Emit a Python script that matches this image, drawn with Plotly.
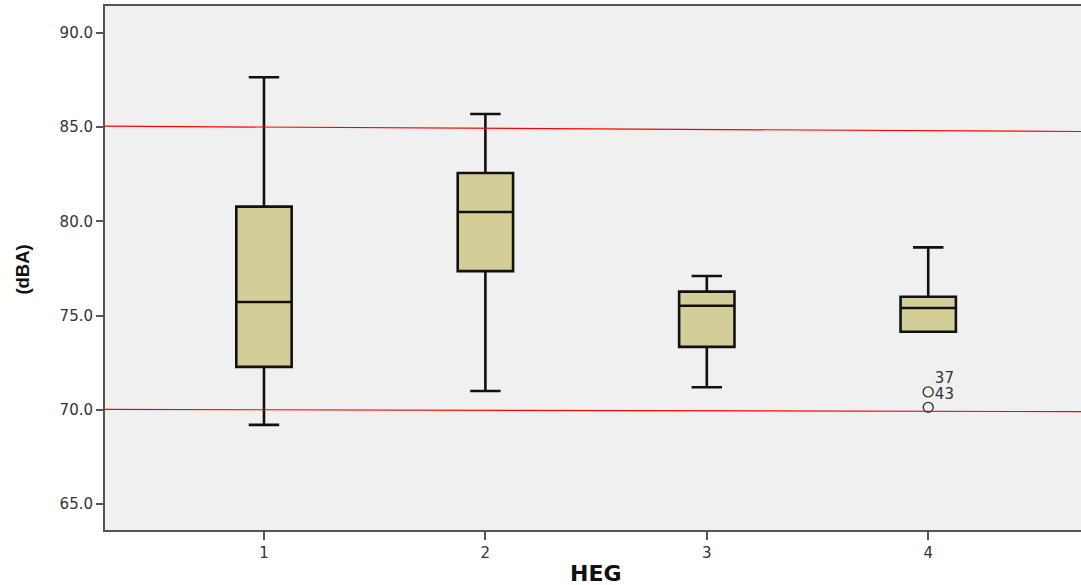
import plotly.graph_objects as go

groups = ["1", "2", "3", "4"]
upper_whisker = [87.65, 85.70, 77.10, 78.62]
q3 = [80.78, 82.57, 76.27, 76.00]
median = [75.72, 80.50, 75.52, 75.40]
q1 = [72.28, 77.36, 73.34, 74.14]
lower_whisker = [69.20, 71.00, 71.20, 74.14]

outlier_group = ["4", "4"]
outlier_values = [70.95, 70.13]
outlier_labels = ["37", "43"]
outlier_label_y = [71.6, 70.75]

ref_x = [0.28, 4.69]
ref_upper = [85.05, 84.77]
ref_lower = [70.02, 69.90]

y_ticks = [65, 70, 75, 80, 85, 90]

fig = go.Figure()

fig.add_trace(go.Scatter(x=ref_x, y=ref_upper, mode="lines",
                         line=dict(color="#FF0000", width=1.2),
                         hoverinfo="skip", showlegend=False))
fig.add_trace(go.Scatter(x=ref_x, y=ref_lower, mode="lines",
                         line=dict(color="#FF0000", width=1.2),
                         hoverinfo="skip", showlegend=False))

fig.add_trace(go.Box(
    x=[int(g) for g in groups],
    q1=q1, median=median, q3=q3,
    lowerfence=lower_whisker, upperfence=upper_whisker,
    fillcolor="#D3CE97",
    line=dict(color="#111111", width=2.6),
    width=0.25,
    whiskerwidth=0.55,
    boxpoints=False,
    showlegend=False,
))

fig.add_trace(go.Scatter(
    x=[int(g) for g in outlier_group], y=outlier_values, mode="markers",
    marker=dict(symbol="circle-open", size=10, color="#333333", line=dict(width=1.4)),
    showlegend=False))

fig.add_trace(go.Scatter(
    x=[int(g) + 0.03 for g in outlier_group], y=outlier_label_y, mode="text",
    text=outlier_labels, textposition="middle right",
    textfont=dict(family="DejaVu Sans", size=15, color="#333333"),
    showlegend=False))

fig.update_layout(
    width=1081, height=585,
    margin=dict(l=105, r=0, t=6, b=55, autoexpand=False),
    paper_bgcolor="white",
    plot_bgcolor="#F0F0F0",
    font=dict(family="DejaVu Sans", size=15, color="#333333"),
    xaxis=dict(
        range=[0.282, 4.69], automargin=False,
        tickmode="array", tickvals=[1, 2, 3, 4], ticktext=groups,
        ticks="outside", ticklen=8, tickwidth=2, tickcolor="#555555",
        showline=True, linecolor="#555555", linewidth=2, mirror=True,
        showgrid=False, zeroline=False,
    ),
    yaxis=dict(
        range=[63.62, 91.43], automargin=False,
        tickmode="array", tickvals=y_ticks, ticktext=[f"{v:.1f}" for v in y_ticks],
        ticks="outside", ticklen=7, tickwidth=2, tickcolor="#555555",
        showline=True, linecolor="#555555", linewidth=2,
        showgrid=False, zeroline=False,
    ),
    annotations=[
        dict(text="<b>HEG</b>", xref="paper", yref="paper", x=0.503, y=-0.083,
             xanchor="center", yanchor="middle", showarrow=False,
             font=dict(family="DejaVu Sans", size=22, color="#111111")),
        dict(text="<b>(dBA)</b>", xref="paper", yref="paper", x=-0.084, y=0.497,
             xanchor="center", yanchor="middle", showarrow=False, textangle=-90,
             font=dict(family="Liberation Sans", size=18.5, color="#111111")),
    ],
)

fig.write_html("out.html", config={"displayModeBar": False},
               post_script="document.body.style.margin='0';document.body.style.overflow='hidden';")
